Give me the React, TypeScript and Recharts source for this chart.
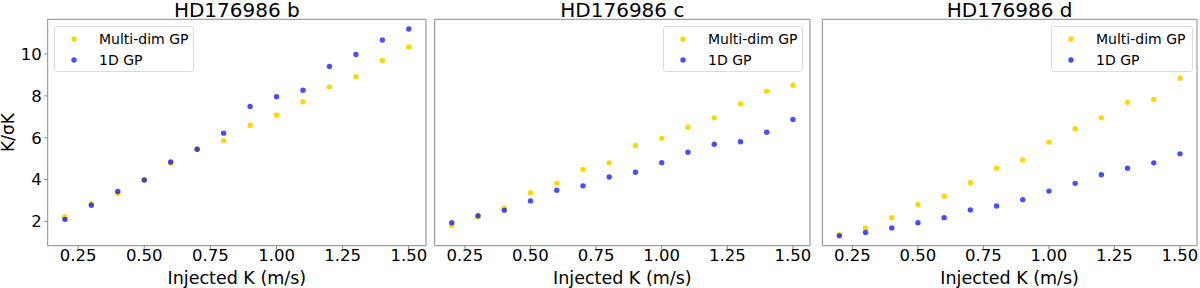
import { ScatterChart, Scatter, XAxis, YAxis, ReferenceArea, Legend } from "recharts";

// injected semi-amplitude (m/s)
const injectedK = [0.2, 0.3, 0.4, 0.5, 0.6, 0.7, 0.8, 0.9, 1.0, 1.1, 1.2, 1.3, 1.4, 1.5];

// K / sigma_K for each planet
const bMulti = [2.21, 2.85, 3.33, 3.98, 4.78, 5.45, 5.86, 6.59, 7.08, 7.72, 8.43, 8.92, 9.69, 10.34];
const b1D = [2.1, 2.77, 3.43, 3.98, 4.84, 5.45, 6.22, 7.49, 7.96, 8.27, 9.41, 9.98, 10.67, 11.2];
const cMulti = [1.81, 2.21, 2.64, 3.37, 3.82, 4.49, 4.8, 5.63, 5.97, 6.5, 6.95, 7.62, 8.22, 8.51];
const c1D = [1.94, 2.27, 2.53, 2.98, 3.49, 3.7, 4.12, 4.35, 4.81, 5.31, 5.69, 5.81, 6.26, 6.87];
const dMulti = [1.37, 1.69, 2.18, 2.8, 3.2, 3.85, 4.54, 4.94, 5.79, 6.43, 6.95, 7.69, 7.83, 8.84];
const d1D = [1.31, 1.47, 1.69, 1.94, 2.18, 2.55, 2.74, 3.04, 3.45, 3.82, 4.23, 4.54, 4.8, 5.23];

const xTicks = [0.25, 0.5, 0.75, 1.0, 1.25, 1.5];
const yTicks = [2, 4, 6, 8, 10];
const X_DOMAIN: [number, number] = [0.135, 1.565];
const Y_DOMAIN: [number, number] = [0.84, 11.66];

const MULTI_NAME = "Multi-dim GP";
const ONED_NAME = "1D GP";
const YELLOW = "#ffd700";
const BLUE = "#0000ff";
const FONT = "'DejaVu Sans', sans-serif";
const SPINE = "#8a8a8a";

const toPoints = (ys: number[]) => injectedK.map((k, i) => ({ k, v: ys[i] }));

const panels = [
  { title: "HD176986 b", multi: bMulti, oneD: b1D, left: 0, width: 430, yw: 47.7, mr: 4, legendLeft: 54, legendW: 140, labels: true },
  { title: "HD176986 c", multi: cMulti, oneD: c1D, left: 430, width: 385, yw: 4.7, mr: 5, legendLeft: 233, legendW: 140, labels: false },
  { title: "HD176986 d", multi: dMulti, oneD: d1D, left: 815, width: 385, yw: 7.3, mr: 3, legendLeft: 236, legendW: 142, labels: false },
];

const TOP = 19.3;
const XAXIS_H = 42.3;
const H = 288;

function Dot(props: any, color: string, opacity: number) {
  return <circle cx={props.cx} cy={props.cy} r={2.7} fill={color} fillOpacity={opacity} />;
}

function LegendBox({ width }: { width: number }) {
  const items = [
    { name: MULTI_NAME, color: YELLOW, opacity: 1 },
    { name: ONED_NAME, color: BLUE, opacity: 0.7 },
  ];
  return (
    <div
      style={{
        position: "relative",
        width,
        height: 46,
        border: "1px solid #dcdcdc",
        borderRadius: 3,
        background: "rgba(255,255,255,0.8)",
        boxSizing: "border-box",
        fontFamily: FONT,
        fontSize: 14,
        color: "#000",
      }}
    >
      {items.map((it, i) => (
        <div key={it.name} style={{ position: "absolute", left: 0, top: 2 + i * 21, height: 20, width: "100%" }}>
          <svg width={10} height={10} style={{ position: "absolute", left: 14, top: 5 }}>
            <circle cx={5} cy={5} r={2.7} fill={it.color} fillOpacity={it.opacity} />
          </svg>
          <span style={{ position: "absolute", left: 44, top: 0, lineHeight: "20px", whiteSpace: "nowrap" }}>{it.name}</span>
        </div>
      ))}
    </div>
  );
}

function YLabel(props: any) {
  const vb = props.viewBox;
  const cy = vb.y + vb.height / 2;
  return (
    <text
      x={13.5}
      y={cy}
      transform={`rotate(-90, 13.5, ${cy})`}
      textAnchor="middle"
      fontFamily={FONT}
      fontSize={17}
      fill="#000"
    >
      K/σK
    </text>
  );
}

export default function App() {
  return (
    <div style={{ position: "absolute", left: 0, top: 0, width: 1200, height: H, background: "#fff", overflow: "hidden" }}>
      {panels.map((p) => {
        const plotLeft = p.left + p.yw;
        const plotW = p.width - p.yw - p.mr;
        return (
          <div key={p.title}>
            <div
              style={{
                position: "absolute",
                left: plotLeft,
                top: 0,
                width: plotW,
                textAlign: "center",
                fontFamily: FONT,
                fontSize: 20,
                lineHeight: "20px",
                color: "#000",
                whiteSpace: "nowrap",
              }}
            >
              {p.title}
            </div>
            <div style={{ position: "absolute", left: p.left, top: 0 }}>
              <ScatterChart width={p.width} height={H} margin={{ top: TOP, right: p.mr, bottom: 0, left: 0 }}>
                <XAxis
                  type="number"
                  dataKey="k"
                  domain={X_DOMAIN}
                  ticks={xTicks}
                  allowDataOverflow
                  height={XAXIS_H}
                  axisLine={false}
                  tickLine={{ stroke: SPINE }}
                  tickSize={3.5}
                  tickMargin={0}
                  tickFormatter={(v: number) => v.toFixed(2)}
                  tick={{ fontFamily: FONT, fontSize: 16.5, fill: "#000" }}
                  label={{
                    value: "Injected K (m/s)",
                    position: "insideBottom",
                    offset: 4,
                    style: { fontFamily: FONT, fontSize: 17.5, fill: "#000" },
                  }}
                />
                <YAxis
                  type="number"
                  dataKey="v"
                  domain={Y_DOMAIN}
                  ticks={yTicks}
                  allowDataOverflow
                  width={p.yw}
                  axisLine={false}
                  tickLine={{ stroke: SPINE }}
                  tickSize={3.5}
                  tickMargin={2.5}
                  tick={p.labels ? { fontFamily: FONT, fontSize: 16.5, fill: "#000" } : false}
                  label={p.labels ? { content: <YLabel /> } : undefined}
                />
                <ReferenceArea
                  x1={X_DOMAIN[0]}
                  x2={X_DOMAIN[1]}
                  y1={Y_DOMAIN[0]}
                  y2={Y_DOMAIN[1]}
                  fill="none"
                  stroke={SPINE}
                  strokeWidth={1}
                  fillOpacity={0}
                />
                <Scatter
                  name={MULTI_NAME}
                  data={toPoints(p.multi)}
                  isAnimationActive={false}
                  shape={(s: any) => Dot(s, YELLOW, 1)}
                />
                <Scatter
                  name={ONED_NAME}
                  data={toPoints(p.oneD)}
                  isAnimationActive={false}
                  shape={(s: any) => Dot(s, BLUE, 0.7)}
                />
                <Legend
                  layout="vertical"
                  align="center"
                  verticalAlign="middle"
                  content={() => <LegendBox width={p.legendW} />}
                  wrapperStyle={{ position: "absolute", left: p.legendLeft, top: 26, width: p.legendW, height: 46 }}
                />
              </ScatterChart>
            </div>
          </div>
        );
      })}
    </div>
  );
}
